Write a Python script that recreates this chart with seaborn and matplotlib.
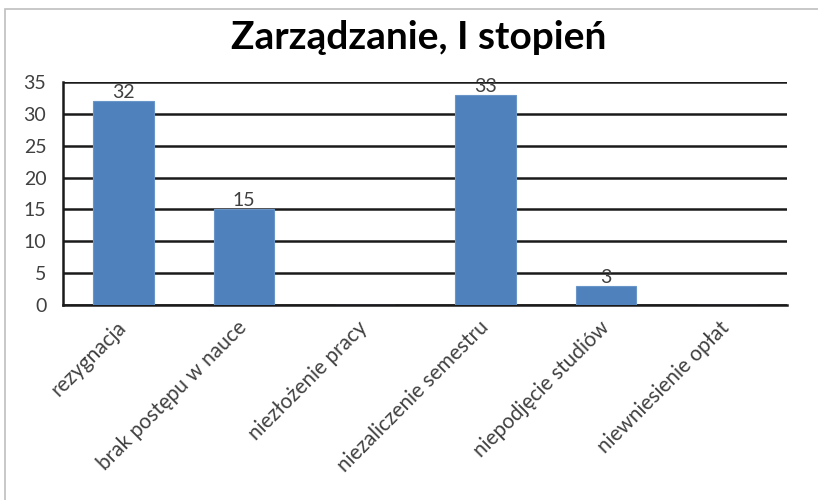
import pandas as pd
import seaborn as sns
import matplotlib.pyplot as plt
from matplotlib.patches import Rectangle

categories = ['rezygnacja', 'brak postępu w nauce', 'niezłożenie pracy',
              'niezaliczenie semestru', 'niepodjęcie studiów', 'niewniesienie opłat']
values = [32, 15, 0, 33, 3, 0]
bar_labels = ['32', '15', '', '33', '3', '']
y_ticks = [0, 5, 10, 15, 20, 25, 30, 35]


def main() -> None:

    sns.set_style('white')
    plt.rcParams['font.family'] = ['Lato', 'DejaVu Sans']

    df = pd.DataFrame({'powod': categories, 'liczba': values})

    fig = plt.figure(figsize=(8.18, 5.0), dpi=100)
    ax = fig.add_axes([63 / 818, 1 - 305 / 500, 724 / 818, 223 / 500])

    sns.barplot(data=df, x='powod', y='liczba', color='#4f81bd',
                width=0.5, saturation=1, ax=ax, zorder=3,
                edgecolor='#6a95c8', linewidth=0.8)

    ax.set_ylim(0, 35)
    ax.set_yticks(y_ticks)
    ax.set_xlim(-0.5, len(categories) - 0.5)
    ax.yaxis.grid(True, color='#1a1a1a', linewidth=1.8, zorder=0)
    ax.set_axisbelow(True)

    for s in ['top', 'right']:
        ax.spines[s].set_visible(False)
    ax.spines['left'].set_color('#1a1a1a')
    ax.spines['left'].set_linewidth(1.8)
    ax.spines['bottom'].set_color('#1a1a1a')
    ax.spines['bottom'].set_linewidth(1.8)

    ax.bar_label(ax.containers[0], labels=bar_labels, fontsize=14,
                 color='#404040', padding=0)

    ax.set_xlabel('')
    ax.set_ylabel('')
    ax.tick_params(axis='y', labelsize=14, length=0, pad=12, colors='#404040')
    ax.tick_params(axis='x', labelsize=15, length=0, pad=14, colors='#404040')
    plt.setp(ax.get_xticklabels(), rotation=45, ha='right', va='center',
             rotation_mode='anchor')

    fig.text(0.512, 0.925, 'Zarządzanie, I stopień', ha='center', va='center',
             fontsize=28, fontweight='bold', color='black')

    fig.patches.append(Rectangle((5 / 818, -0.1), 1.2, 1 - 9 / 500 + 0.1,
                                 transform=fig.transFigure, fill=False,
                                 edgecolor='#bfbfbf', linewidth=1.2))

    plt.savefig('out.png', dpi=100)


if __name__ == '__main__':
    main()
